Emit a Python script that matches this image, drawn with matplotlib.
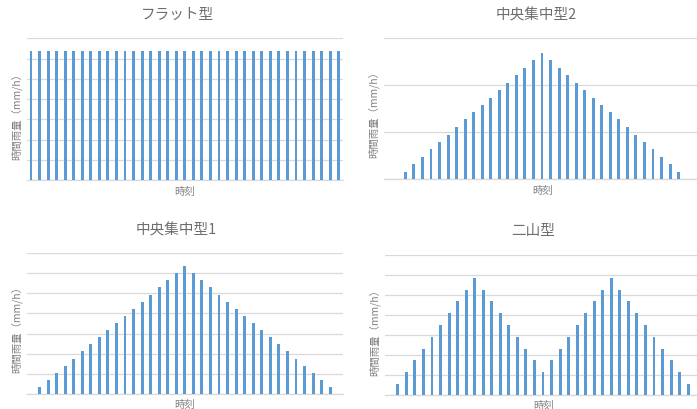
import matplotlib
matplotlib.use("Agg")
import matplotlib.pyplot as plt
import numpy as np

plt.rcParams['font.family'] = ['Noto Sans CJK JP', 'DejaVu Sans']

# ---- data (mm/h) ----
categories = list(range(1, 38))

flat = [63.6, 63.6, 63.6, 63.6, 63.6, 63.6, 63.6, 63.6, 63.6, 63.6,
        63.6, 63.6, 63.6, 63.6, 63.6, 63.6, 63.6, 63.6, 63.6, 63.6,
        63.6, 63.6, 63.6, 63.6, 63.6, 63.6, 63.6, 63.6, 63.6, 63.6,
        63.6, 63.6, 63.6, 63.6, 63.6, 63.6, 63.6]

central2 = [0, 0, 1.4, 3.1, 4.6, 6.3, 7.9, 9.4, 11.1, 12.7, 14.2, 15.8, 17.3,
            19.0, 20.5, 22.1, 23.7, 25.3, 26.9, 25.3, 23.7, 22.1, 20.5, 19.0,
            17.3, 15.8, 14.2, 12.7, 11.1, 9.4, 7.9, 6.3, 4.6, 3.1, 1.4, 0, 0]

central1 = [0, 3.3, 7.0, 10.4, 13.9, 17.5, 21.2, 24.7, 28.3, 31.8, 35.4, 38.9,
            42.2, 45.9, 49.3, 53.0, 56.5, 60.1, 63.6, 60.1, 56.5, 53.0, 49.3,
            45.9, 42.2, 38.9, 35.4, 31.8, 28.3, 24.7, 21.2, 17.5, 13.9, 10.4,
            7.0, 3.3, 0]

bimodal = [0, 5.8, 11.5, 17.4, 23.2, 29.2, 35.0, 40.8, 46.8, 52.6, 58.4, 52.6,
           46.8, 40.8, 35.0, 29.2, 23.2, 17.4, 11.5, 17.4, 23.2, 29.2, 35.0,
           40.8, 46.8, 52.6, 58.4, 52.6, 46.8, 40.8, 35.0, 29.2, 23.2, 17.4,
           11.5, 5.8, 0]

titles = ["フラット型", "中央集中型2", "中央集中型1", "二山型"]
xlabel = "時刻"
ylabel = "時間雨量（mm/h）"
ymaxes = [70, 30, 70, 70]

W, H = 697, 410
fig = plt.figure(figsize=(W / 100, H / 100), dpi=100)

BAR = "#5B9BD5"
GRID = "#D9D9D9"
TXT = "#6E6E6E"
LAB = "#808080"

# pixel boxes: left, right, top, bottom
boxes = [(26.7, 343, 39.3, 181), (384, 700, 39.3, 180),
         (26.7, 343, 254, 395), (385, 701, 255.7, 396.3)]
title_pos = [(177, 15), (536, 15), (176, 230), (533, 231)]
xlab_pos = [(185, 192), (543, 191), (185, 405), (544, 406)]
ylab_pos = [(16, 114), (373, 112), (16, 327), (374, 330)]
series = [flat, central2, central1, bimodal]

for i in range(4):
    l, r, t, b = boxes[i]
    ax = fig.add_axes([l / W, 1 - b / H, (r - l) / W, (b - t) / H])
    x = np.arange(len(categories))
    ax.bar(x, series[i], width=0.34, color=BAR, linewidth=0, zorder=3)
    ax.set_xlim(-0.5, len(categories) - 0.5)
    ax.set_ylim(0, ymaxes[i])
    ax.set_yticks(np.arange(0, ymaxes[i] + 1, 10))
    ax.set_xticks([])
    ax.tick_params(left=False, labelleft=False, bottom=False, labelbottom=False)
    ax.grid(axis='y', color=GRID, linewidth=0.9, zorder=0)
    for s in ['top', 'right', 'left']:
        ax.spines[s].set_visible(False)
    ax.spines['bottom'].set_color(GRID)
    ax.spines['bottom'].set_linewidth(0.9)
    ax.set_facecolor('none')

    fig.text(title_pos[i][0] / W, 1 - title_pos[i][1] / H, titles[i],
             ha='center', va='center', fontsize=10.5, color=TXT)
    fig.text(xlab_pos[i][0] / W, 1 - xlab_pos[i][1] / H, xlabel,
             ha='center', va='center', fontsize=7.5, color=LAB)
    fig.text(ylab_pos[i][0] / W, 1 - ylab_pos[i][1] / H, ylabel,
             ha='center', va='center', fontsize=7.5, color=LAB, rotation=90)

fig.savefig("out.png", dpi=100)
